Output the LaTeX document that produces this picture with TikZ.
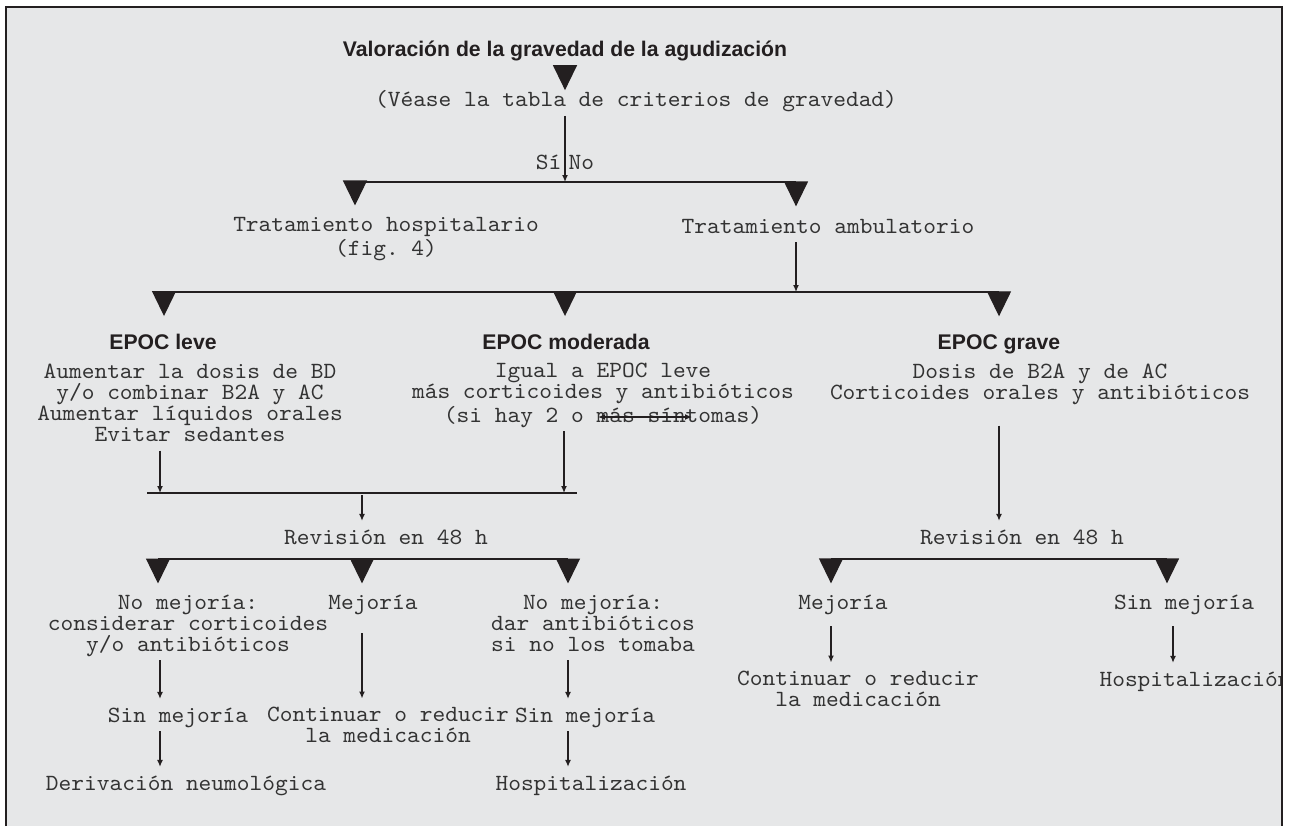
\documentclass[tikz,border=0pt]{standalone}
\usepackage{fontspec}
\setmainfont{Liberation Sans}
\setsansfont{Liberation Sans}
\setmonofont{lmmono10-regular.otf}[FakeStretch=1.045]
\usetikzlibrary{arrows.meta}
\definecolor{paper}{HTML}{E6E7E8}
\definecolor{ink}{HTML}{231F20}
\definecolor{textgray}{HTML}{333333}

\begin{document}
\begin{tikzpicture}
  [x=0.5pt,y=-0.5pt,line width=0.65pt,color=ink,
   every node/.style={inner sep=0pt,text=textgray,align=center,
     font=\ttfamily\fontsize{11.6}{10.5}\selectfont,
     execute at begin node=\strut,execute at end node=\strut}]
  \tikzstyle{head} = [text=ink,font=\sffamily\bfseries\fontsize{10.6}{10.5}\selectfont]
  \tikzstyle{drop} = [-{Triangle[length=12.5pt,width=12pt]}]
  \tikzstyle{arr} = [-{Latex[length=3.5pt,width=3pt]},shorten <=1pt]
  \tikzstyle{into} = [shorten >=4pt]
  \tikzstyle{bar} = [line width=0.8pt]

  \useasboundingbox (0,0) rectangle (1294,826);
  \fill[paper] (6,7) rectangle (1282,826);

  \begin{scope}
  \clip (6,7) rectangle (1282,826);

  % texts
  \node[head] (title) at (565,52) {Valoración de la gravedad de la agudización};
  \node (crit) at (636,102) {(Véase la tabla de criterios de gravedad)};
  \node (hosp) at (386,239.5) {Tratamiento hospitalario\\(fig. 4)};
  \node (amb) at (828,229) {Tratamiento ambulatorio};
  \node[head] (leve) at (163,345) {EPOC leve};
  \node[head] (mod) at (566,345) {EPOC moderada};
  \node[head] (grave) at (999,345) {EPOC grave};
  \node (leveTx) at (190,406) {Aumentar la dosis de BD\\y/o combinar B2A y AC\\Aumentar líquidos orales\\Evitar sedantes};
  \node (modTx) at (603,396) {Igual a EPOC leve\\más corticoides y antibióticos\\(si hay 2 o más síntomas)};
  \node (graveTx) at (1040,385) {Dosis de B2A y de AC\\Corticoides orales y antibióticos};
  \node (rev1) at (386,540) {Revisión en 48 h};
  \node (rev2) at (1022,540) {Revisión en 48 h};
  \node (nm1) at (188,626) {No mejoría:\\considerar corticoides\\y/o antibióticos};
  \node (mej1) at (373,605) {Mejoría};
  \node (nm2) at (593,626) {No mejoría:\\dar antibióticos\\si no los tomaba};
  \node (mej2) at (843,605) {Mejoría};
  \node (sm3) at (1184,605) {Sin mejoría};
  \node (sm1) at (178,718) {Sin mejoría};
  \node (cont1) at (388,728) {Continuar o reducir\\la medicación};
  \node (sm2) at (585,718) {Sin mejoría};
  \node (cont2) at (858,692) {Continuar o reducir\\la medicación};
  \node (hosp2) at (1195,682) {Hospitalización};
  \node (der) at (186,786) {Derivación neumológica};
  \node (hosp1) at (591,786) {Hospitalización};

  % junctions on the bars
  \coordinate (r2a) at (355,182); \coordinate (r2m) at (565,182); \coordinate (r2b) at (796,182);
  \coordinate (r3a) at (164,292); \coordinate (r3b) at (565,292);
  \coordinate (r3j) at (796,292); \coordinate (r3c) at (999,292);
  \coordinate (r4a) at (160,493); \coordinate (r4m) at (362,493); \coordinate (r4b) at (564,493);
  \coordinate (r5a) at (158,559); \coordinate (r5b) at (362,559); \coordinate (r5c) at (568,559);
  \coordinate (r6a) at (831,559); \coordinate (r6b) at (1167,559);
  \coordinate (k5) at (1173,559);
  \coordinate (s1) at (598,417); \coordinate (s2) at (692,417);

  \draw[bar] (r2a) -- (r2b);
  \draw[bar] (r3a) -- (r3c);
  \draw[bar] ([xshift=-6.5pt]r4a) -- ([xshift=6.5pt]r4b);
  \draw[bar] (r5a) -- (r5c);
  \draw[bar] (r6a) -- (r6b);

  \draw[drop,shorten <=2pt] (title.south) -- (title.south |- crit.north);
  \foreach \c/\n/\s in {r2a/hosp/5.75pt,r2b/amb/5.75pt,r3a/leve/8.75pt,r3b/mod/8.75pt,
      r3c/grave/8.75pt,r5a/nm1/5.25pt,r5b/mej1/5.25pt,r5c/nm2/5.25pt,r6a/mej2/5.25pt,r6b/sm3/5.25pt}
    \draw[drop,shorten >=\s] (\c) -- (\c |- \n.north);

  \draw[arr] (crit.south -| r2m) -- (r2m)
    node[pos=.75,left=1.5pt] (si) {Sí} node[pos=.75,right=1.5pt] (no) {No};
  \draw[arr] (amb.south -| r3j) -- (r3j);
  \draw[arr] (leveTx.south -| r4a) -- (r4a);
  \draw[arr] (modTx.south -| r4b) -- (r4b);
  \draw[arr,into] (r4m) -- (r4m |- rev1.north);
  \draw[arr,into,shorten <=9.5pt] (graveTx.south -| r3c) -- (r3c |- rev2.north);
  \draw[{Latex[length=3.5pt,width=3pt]}-{Latex[length=3.5pt,width=3pt]}] (s1) -- (s2);

  \foreach \a/\b/\k in {nm1/sm1/r4a,nm2/sm2/r5c,sm1/der/r4a,sm2/hosp1/r5c}
    \draw[arr,into] (\a.south -| \k) -- (\b.north -| \k);
  \draw[arr,into,shorten <=8.5pt] (mej1.south -| r5b) -- (cont1.north -| r5b);
  \draw[arr,into,shorten <=5pt] (mej2.south -| r6a) -- (cont2.north -| r6a);
  \draw[arr,into,shorten <=5pt] (sm3.south -| k5) -- (hosp2.north -| k5);
  \end{scope}

  \draw[line width=0.75pt] (6,826) -- (6,7) -- (1282,7) -- (1282,826);
\end{tikzpicture}
\end{document}
